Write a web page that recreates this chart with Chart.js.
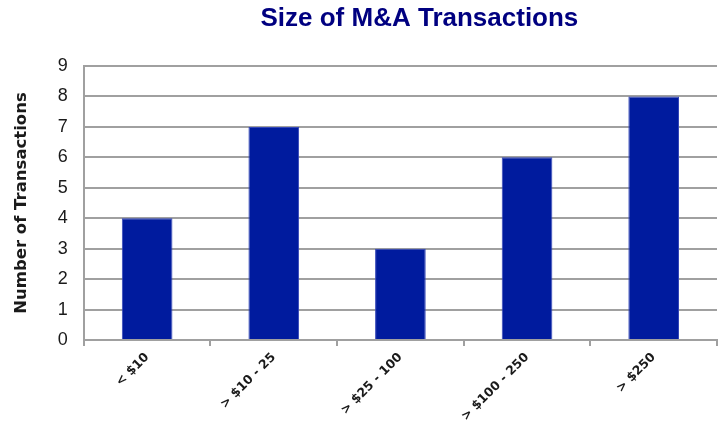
<!DOCTYPE html>
<html>
<head>
<meta charset="utf-8">
<script src="https://cdn.jsdelivr.net/npm/chart.js@4/dist/chart.umd.min.js"></script>
<style>
  html, body { margin: 0; padding: 0; background: #fff; }
  #wrap { width: 723px; height: 422px; }
</style>
</head>
<body>
<div id="wrap"><canvas id="dealChart" width="723" height="422"></canvas></div>
<script>
const chartTitle = "Size of M&A Transactions";
const sizeBuckets = ["< $10", "> $10 - 25", "> $25 - 100", "> $100 - 250", "> $250"];
const dealCounts = [4, 7, 3, 6, 8];
const yTicks = [0, 1, 2, 3, 4, 5, 6, 7, 8, 9];

// title is centred over the plot area, not the canvas
const titlePlugin = {
  id: 'plotTitle',
  afterDraw(chart) {
    const { ctx, chartArea } = chart;
    ctx.save();
    ctx.font = "bold 26px 'Liberation Sans', Arial, sans-serif";
    ctx.fillStyle = '#000080';
    ctx.textAlign = 'center';
    ctx.textBaseline = 'middle';
    ctx.fillText(chartTitle, (chartArea.left + chartArea.right) / 2 + 19, 19);
    ctx.restore();
  }
};

new Chart(document.getElementById('dealChart'), {
  type: 'bar',
  data: {
    labels: sizeBuckets,
    datasets: [{
      label: 'Transactions',
      data: dealCounts,
      backgroundColor: '#001b9e',
      borderColor: '#3447b8',
      borderWidth: 1,
      categoryPercentage: 1,
      barPercentage: 0.4
    }]
  },
  options: {
    responsive: false,
    animation: false,
    layout: { padding: { top: 66, right: 6, left: 12, bottom: 0 } },
    plugins: {
      legend: { display: false },
      tooltip: { enabled: false }
    },
    scales: {
      x: {
        afterFit: axis => { axis.height = 82; },
        grid: { drawOnChartArea: false, drawTicks: true, tickLength: 6, color: '#a0a0a0', lineWidth: 2 },
        border: { color: '#a0a0a0', width: 2 },
        ticks: {
          color: '#1a1a1a',
          minRotation: 45,
          maxRotation: 45,
          padding: 4,
          font: { family: 'DejaVu Sans', size: 12.5, weight: 'bold' }
        }
      },
      y: {
        min: 0,
        max: 9,
        afterBuildTicks: axis => { axis.ticks = yTicks.map(v => ({ value: v })); },
        grid: { color: '#a0a0a0', lineWidth: 2, drawTicks: false },
        border: { color: '#a0a0a0', width: 2 },
        ticks: {
          color: '#1a1a1a',
          padding: 16,
          font: { family: 'Liberation Sans', size: 18 }
        },
        title: {
          display: true,
          text: 'Number of Transactions',
          color: '#1a1a1a',
          padding: { top: 0, bottom: 10 },
          font: { family: 'DejaVu Sans', size: 16.5, weight: 'bold' }
        }
      }
    }
  },
  plugins: [titlePlugin]
});
</script>
</body>
</html>
